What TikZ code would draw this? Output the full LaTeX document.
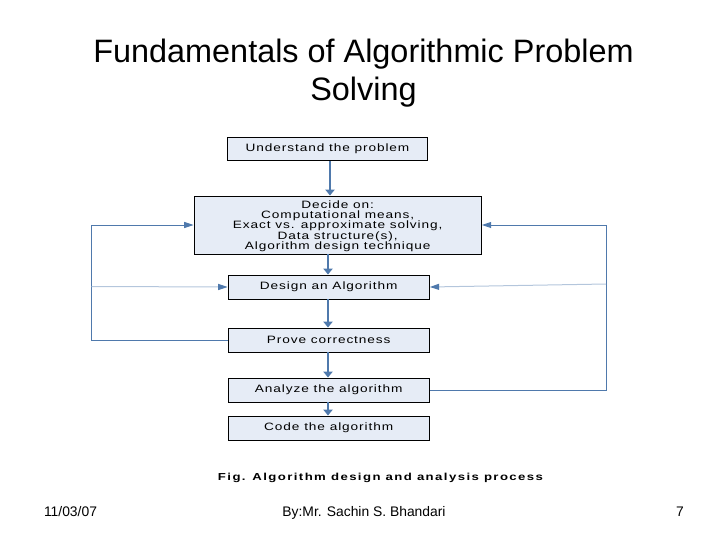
\documentclass[tikz,border=0pt]{standalone}
\usepackage{fontspec}
\setmainfont{Liberation Sans}
\newfontfamily\boxfont[FakeStretch=1.28,LetterSpace=8.5]{Liberation Sans}
\newfontfamily\capfont[FakeStretch=1.3,LetterSpace=14,BoldFont={Liberation Sans Bold}]{Liberation Sans}
\usetikzlibrary{arrows.meta}
\definecolor{linkblue}{HTML}{4F79AC}
\definecolor{faintblue}{HTML}{B4C6DC}
\definecolor{boxfill}{HTML}{E6ECF6}
\tikzset{
	stepbox/.style={draw=black, fill=boxfill, line width=0.7pt, inner sep=0pt, align=center, font=\boxfont\fontsize{8}{7.8}\selectfont},
	link/.style={draw=linkblue, line width=1pt, -{Triangle[length=4.5pt,width=7pt]}},
	backlink/.style={draw=linkblue, line width=0.75pt, -{Triangle[length=7pt,width=4.5pt]}},
	faint/.style={draw=faintblue, line width=0.75pt, -{Triangle[length=7pt,width=4.5pt,color=linkblue]}},
	footer/.style={anchor=base, font=\fontsize{10.4}{12}\selectfont}
}
\begin{document}
\begin{tikzpicture}[x=0.75pt, y=-0.75pt]
	\useasboundingbox (0,0) rectangle (728,546);
	\node[font=\fontsize{24.3}{28.5}\selectfont, align=center] (title) at (363.5,73) {Fundamentals of Algorithmic Problem\\Solving};
	\begin{scope}[every node/.style={stepbox}]
		\node[minimum width=149.6pt, minimum height=17pt] (U) at (327.5,149) {Understand the problem};
		\node[minimum width=215.5pt, minimum height=43.5pt] (D) at (337.7,225) {\rule{0pt}{7.5pt}Decide on:\\Computational means,\\Exact vs. approximate solving,\\Data structure(s),\\Algorithm design technique};
		\node[minimum width=151pt, minimum height=18pt] (G) at (328.7,287) {Design an Algorithm};
		\node[minimum width=151pt, minimum height=18pt] (P) at (328.7,340) {Prove correctness};
		\node[minimum width=151pt, minimum height=18pt] (A) at (328.7,390) {Analyze the algorithm};
		\node[minimum width=151pt, minimum height=18pt] (C) at (328.7,428) {Code the algorithm};
	\end{scope}
	\node[font=\capfont\bfseries\fontsize{7.6}{8}\selectfont] (F) at (380.5,478) {Fig. Algorithm design and analysis process};
	\node[footer] (date) at (70.5,516) {11/03/07};
	\node[footer] (by) at (364,516) {By:Mr. Sachin S. Bhandari};
	\node[footer] (num) at (680,516) {7};
	\coordinate (LB) at (91.5,340);
	\coordinate (LT) at (91.5,225);
	\coordinate (LM) at (91.5,286.5);
	\coordinate (RB) at (606,390);
	\coordinate (RT) at (606,225);
	\coordinate (RM) at (606,284);
	\path[link] (U.south -| 330,0) -- (D.north -| 330,0);
	\path[link] (D.south -| 328,0) -- (G.north -| 328,0);
	\path[link] (G.south -| 328,0) -- (P.north -| 328,0);
	\path[link] (P.south -| 328,0) -- (A.north -| 328,0);
	\path[link] (A.south -| 328,0) -- (C.north -| 328,0);
	\path[backlink] (P.west) -- (LB) -- (LT) -- (D.west);
	\path[backlink] (A.east) -- (RB) -- (RT) -- (D.east);
	\path[faint] (LM) -- (G.west);
	\path[faint] (RM) -- (G.east);
\end{tikzpicture}
\end{document}
